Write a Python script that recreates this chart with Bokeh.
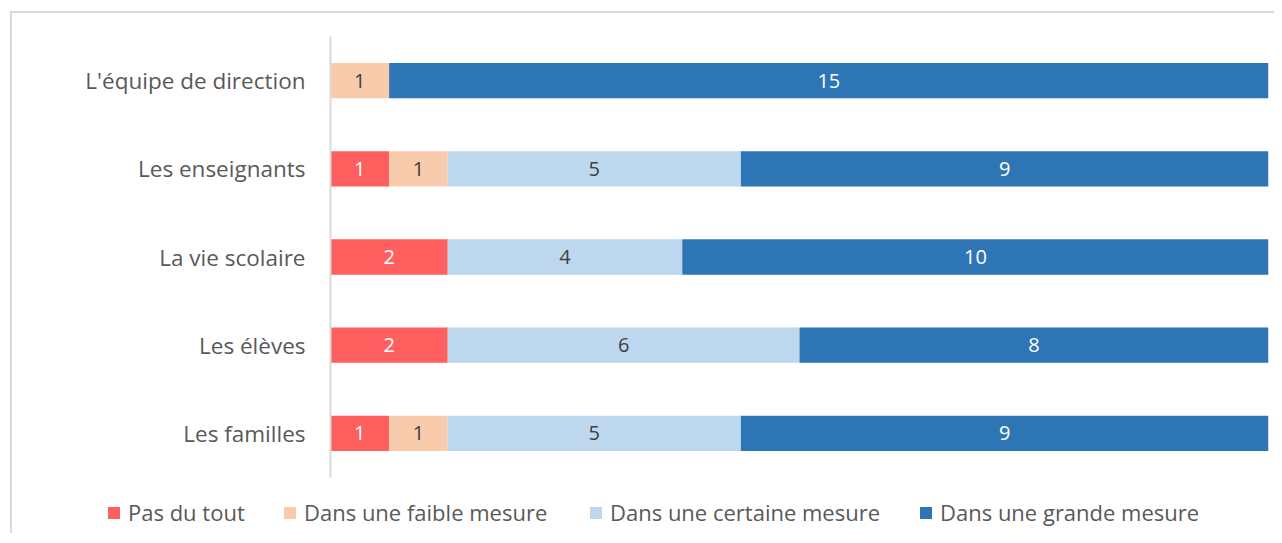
from bokeh.plotting import figure
from bokeh.layouts import column
from bokeh.models import ColumnDataSource, Range1d, FactorRange, Div
from bokeh.core.properties import value
from bokeh.embed import file_html
from bokeh.resources import INLINE

categories = ["L'équipe de direction", "Les enseignants", "La vie scolaire", "Les élèves", "Les familles"]
series_names = ["Pas du tout", "Dans une faible mesure", "Dans une certaine mesure", "Dans une grande mesure"]
pas_du_tout = [0, 1, 2, 2, 1]
faible = [1, 1, 0, 0, 1]
certaine = [0, 5, 4, 6, 5]
grande = [15, 9, 10, 8, 9]

colors = ["#FF5F5F", "#F8CBAD", "#BDD7EE", "#2E75B6"]
label_colors = ["#FFFFFF", "#404040", "#404040", "#FFFFFF"]
FONT = "Open Sans"

keys = ["s0", "s1", "s2", "s3"]
values = [pas_du_tout, faible, certaine, grande]
data = {"cat": categories}
for k, v in zip(keys, values):
    data[k] = v
source = ColumnDataSource(data)

OX, OY = 12, 13  # page offset of the content inside the bordered box
W = 1262
H1 = 480

p = figure(width=W, height=H1, output_backend="svg", toolbar_location=None,
           y_range=FactorRange(factors=list(reversed(categories))),
           x_range=Range1d(0, 16), x_axis_location=None,
           min_border_left=330 - OX, min_border_right=W - (1268 - OX),
           min_border_top=36 - OY, min_border_bottom=H1 - (477 - OY))
p.outline_line_color = None
p.grid.visible = False
p.background_fill_color = "white"
p.border_fill_color = "white"

rs = p.hbar_stack(keys, y="cat", height=0.4, color=colors, source=source, line_color=None)

# value labels
lx, ly, lt, lc = [], [], [], []
for i, cat in enumerate(categories):
    left = 0
    for j, v in enumerate(values):
        val = v[i]
        if val:
            lx.append(left + val / 2)
            ly.append(cat)
            lt.append(str(val))
            lc.append(label_colors[j])
        left += val
lsrc = ColumnDataSource(dict(x=lx, y=ly, t=lt, c=lc))
p.text(x="x", y="y", text="t", text_color="c", source=lsrc, text_align="center",
       text_baseline="middle", text_font=value(FONT), text_font_size="20px")

ax = p.yaxis[0]
ax.axis_line_color = "#D9D9D9"
ax.axis_line_width = 2
ax.major_tick_line_color = None
ax.minor_tick_line_color = None
ax.major_label_standoff = 19
ax.major_label_text_font = FONT
ax.major_label_text_font_size = "22.5px"
ax.major_label_text_color = "#595959"

# legend strip (HTML)
item_widths = [176, 306, 330, 300]
items_html = "".join(
    f'<div style="display:flex;align-items:center;width:{w}px;flex:none;">'
    f'<span style="display:inline-block;width:12px;height:12px;background:{c};margin-right:8px;flex:none;"></span>'
    f'<span style="white-space:nowrap;">{n}</span></div>'
    for n, c, w in zip(series_names, colors, item_widths)
)
legend_html = (f'<div style="display:flex;align-items:center;height:40px;padding-left:{108 - OX}px;'
               f'font-family:\'{FONT}\';font-size:22px;color:#595959;">{items_html}</div>')
legend_div = Div(text=legend_html, width=W, height=40, margin=0)

layout = column(p, legend_div, margin=(11, 0, 0, 10), spacing=0,
                styles={"border-top": "2px solid #D9D9D9", "border-left": "2px solid #D9D9D9"})

open("out.html", "w").write(file_html(layout, INLINE))
